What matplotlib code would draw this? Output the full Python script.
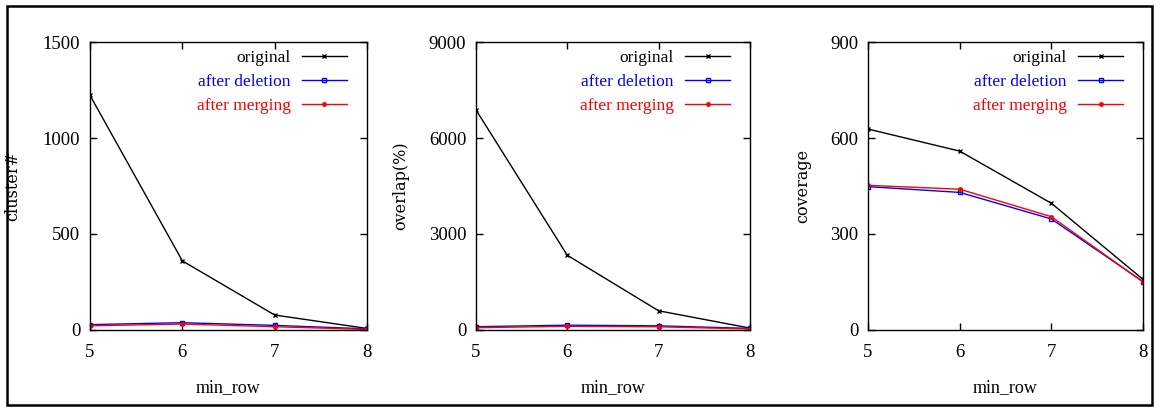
import numpy as np
import matplotlib.pyplot as plt
from matplotlib.patches import Rectangle

min_row = [5, 6, 7, 8]

cluster_orig = [1222, 360, 78, 8]
cluster_del = [28, 38, 24, 6]
cluster_merge = [22, 31, 17, 3]

overlap_orig = [6880, 2335, 600, 60]
overlap_del = [103, 150, 130, 50]
overlap_merge = [72, 115, 100, 30]

cover_orig = [628, 559, 396, 158]
cover_del = [448, 430, 347, 151]
cover_merge = [452, 440, 354, 150]

series_names = ['original', 'after deletion', 'after merging']
series_colors = ['black', '#0000ff', '#ff0000']

panels = [
    ('cluster#', [cluster_orig, cluster_del, cluster_merge], [0, 500, 1000, 1500], 0.0776, 0.2388, -0.278),
    ('overlap(%)', [overlap_orig, overlap_del, overlap_merge], [0, 3000, 6000, 9000], 0.4103, 0.2362, -0.276),
    ('coverage', [cover_orig, cover_del, cover_merge], [0, 300, 600, 900], 0.7483, 0.2371, -0.236),
]

serif = 'Liberation Serif'

fig = plt.figure(figsize=(11.6, 4.07), dpi=100)
fig.patches.append(Rectangle((7/1160, 2/407), 1145/1160, 399/407, transform=fig.transFigure,
                             fill=False, edgecolor='black', linewidth=1.8))

for ylab, data, yt, left, width, ylx in panels:
    ax = fig.add_axes([left, 0.1892, width, 0.7076])
    orig, dele, merg = data
    ax.plot(min_row, orig, color=series_colors[0], lw=1, marker='x', ms=3.5, mew=1, label=series_names[0])
    ax.plot(min_row, dele, color=series_colors[1], lw=1, marker='s', ms=3.5, mfc='none', mew=1, label=series_names[1])
    ax.plot(min_row, merg, color=series_colors[2], lw=1, marker='o', ms=2.5, label=series_names[2])

    ax.set_xlim(5, 8)
    ax.set_ylim(yt[0], yt[-1])
    ax.set_xticks(min_row)
    ax.set_yticks(yt)
    ax.tick_params(direction='in', length=5, width=1, top=True, right=True, labelsize=13.5)
    ax.tick_params(axis='x', pad=10)
    ax.tick_params(axis='y', pad=7)
    for lab in ax.get_xticklabels() + ax.get_yticklabels():
        lab.set_fontfamily(serif)
    for s in ax.spines.values():
        s.set_linewidth(1)

    ax.set_xlabel('min_row', fontfamily=serif, fontsize=13, va='center')
    ax.xaxis.set_label_coords(0.5, -0.2)
    ax.set_ylabel(ylab, fontfamily='DejaVu Serif', fontsize=11.5, va='center')
    ax.yaxis.set_label_coords(ylx, 0.5)

    leg = ax.legend(loc='upper right', bbox_to_anchor=(1 - 20/277, 1 - 8/288), frameon=False,
                    markerfirst=False, handlelength=2.6, handletextpad=0.65, labelspacing=0.45,
                    borderpad=0, borderaxespad=0, prop={'family': serif, 'size': 12.5})
    for t, c in zip(leg.get_texts(), series_colors):
        t.set_color(c)

fig.savefig('out.png', dpi=100)
